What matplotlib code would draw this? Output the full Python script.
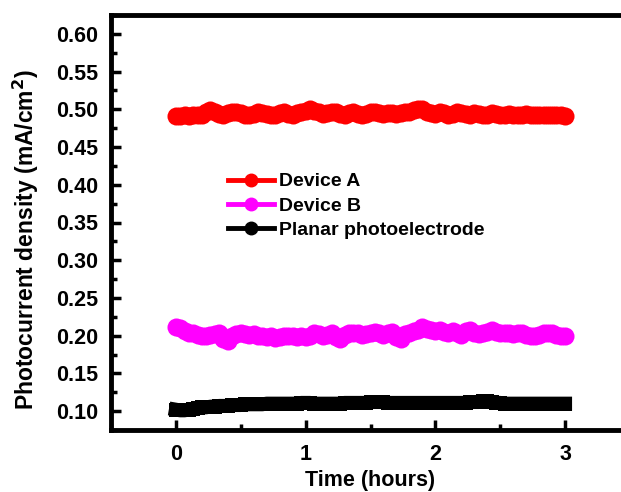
import numpy as np
import matplotlib
matplotlib.use("Agg")
import matplotlib.pyplot as plt
from matplotlib.ticker import MultipleLocator
from matplotlib.lines import Line2D

plt.rcParams['font.family'] = ['Liberation Sans', 'DejaVu Sans']
plt.rcParams['font.weight'] = 'bold'

device_a = [0.491, 0.491, 0.492, 0.491, 0.492, 0.493, 0.492, 0.497, 0.499, 0.497,
            0.494, 0.492, 0.495, 0.496, 0.497, 0.495, 0.493, 0.492, 0.494, 0.496,
            0.495, 0.494, 0.492, 0.493, 0.495, 0.496, 0.494, 0.493, 0.495, 0.497,
            0.498, 0.500, 0.498, 0.496, 0.494, 0.495, 0.497, 0.496, 0.494, 0.493,
            0.495, 0.496, 0.494, 0.493, 0.494, 0.496, 0.497, 0.495, 0.494, 0.495,
            0.495, 0.494, 0.495, 0.496, 0.497, 0.499, 0.501, 0.500, 0.497, 0.495,
            0.494, 0.496, 0.495, 0.493, 0.494, 0.496, 0.495, 0.494, 0.493, 0.495,
            0.494, 0.492, 0.493, 0.495, 0.494, 0.493, 0.492, 0.494, 0.493, 0.492,
            0.493, 0.494, 0.493, 0.492, 0.493, 0.492, 0.493, 0.492, 0.493, 0.492,
            0.491]
device_b = [0.212, 0.210, 0.206, 0.204, 0.204, 0.201, 0.199, 0.199, 0.201, 0.202,
            0.203, 0.196, 0.193, 0.200, 0.202, 0.203, 0.202, 0.201, 0.202, 0.200,
            0.199, 0.198, 0.199, 0.197, 0.198, 0.200, 0.199, 0.200, 0.198, 0.199,
            0.198, 0.200, 0.203, 0.202, 0.199, 0.201, 0.204, 0.198, 0.196, 0.201,
            0.203, 0.204, 0.203, 0.201, 0.202, 0.204, 0.205, 0.203, 0.201, 0.203,
            0.205, 0.198, 0.195, 0.202, 0.204, 0.206, 0.208, 0.212, 0.209, 0.207,
            0.206, 0.207, 0.205, 0.204, 0.206, 0.203, 0.201, 0.206, 0.207, 0.204,
            0.202, 0.204, 0.205, 0.208, 0.205, 0.203, 0.204, 0.203, 0.202, 0.204,
            0.203, 0.201, 0.200, 0.199, 0.201, 0.203, 0.204, 0.203, 0.201, 0.200,
            0.200]
planar = [0.102, 0.101, 0.101, 0.102, 0.103, 0.104, 0.105, 0.105, 0.106, 0.106,
          0.107, 0.107, 0.107, 0.108, 0.108, 0.108, 0.109, 0.109, 0.109, 0.109,
          0.109, 0.110, 0.110, 0.110, 0.110, 0.110, 0.110, 0.110, 0.110, 0.111,
          0.111, 0.111, 0.110, 0.110, 0.110, 0.110, 0.110, 0.110, 0.110, 0.111,
          0.111, 0.111, 0.111, 0.111, 0.111, 0.112, 0.112, 0.112, 0.112, 0.111,
          0.111, 0.111, 0.111, 0.111, 0.111, 0.111, 0.111, 0.111, 0.111, 0.111,
          0.111, 0.111, 0.111, 0.111, 0.111, 0.111, 0.111, 0.111, 0.112, 0.112,
          0.112, 0.113, 0.113, 0.112, 0.111, 0.111, 0.110, 0.110, 0.110, 0.110,
          0.110, 0.110, 0.110, 0.110, 0.110, 0.110, 0.110, 0.110, 0.110, 0.110,
          0.110]
labels = ["Device A", "Device B", "Planar photoelectrode"]
colors = ["#ff0000", "#ff00ff", "#000000"]
time_a = np.linspace(0, 3, len(device_a))
time_b = np.linspace(0, 3, len(device_b))
time_p = np.linspace(0, 3, len(planar))

fig = plt.figure(figsize=(6.21, 4.92), dpi=100)
ax = fig.add_axes([111/621, 62/492, 519/621, 415/492])

ms = 13
ax.plot(time_a, device_a, '-o', color=colors[0], lw=4, ms=ms, mew=0)
ax.plot(time_b, device_b, '-o', color=colors[1], lw=4, ms=ms, mew=0)
ax.plot(time_p, planar, '-s', color=colors[2], lw=10, ms=10.5, mew=0)

ax.set_xlim(-0.5, 3.5)
ax.set_ylim(0.075, 0.625)
ax.xaxis.set_minor_locator(MultipleLocator(0.5))
ax.yaxis.set_minor_locator(MultipleLocator(0.025))
yt = np.arange(0.10, 0.601, 0.05)
ax.set_yticks(yt)
ax.set_yticklabels([f"{v:.2f}" for v in yt])
ax.set_xticks([0, 1, 2, 3])
ax.set_xticklabels(["0", "1", "2", "3"])

for s in ax.spines.values():
    s.set_linewidth(3.5)
ax.tick_params(which='major', direction='in', length=7, width=2.5, labelsize=15.5)
ax.tick_params(axis='y', which='major', pad=9)
ax.tick_params(axis='x', which='major', pad=10)
ax.tick_params(which='minor', direction='in', length=4, width=2.5)
for lab in ax.get_xticklabels() + ax.get_yticklabels():
    lab.set_fontweight('bold')

ax.set_xlabel("Time (hours)", fontsize=15.5, fontweight='bold', labelpad=4)
ax.set_ylabel("Photocurrent density (mA/cm$^\\mathbf{2}$)", fontsize=16.5, fontweight='bold')
ax.yaxis.set_label_coords(-0.135, 0.46)

handles = [Line2D([], [], color=c, marker='o', lw=3.5, ms=9) for c in colors]
leg = ax.legend(handles, labels, loc='upper left', bbox_to_anchor=(0.225, 0.62), frameon=False,
                fontsize=14, handlelength=2.4, handletextpad=0.25, labelspacing=0.35,
                borderpad=0, borderaxespad=0)
for t in leg.get_texts():
    t.set_fontweight('bold')

fig.savefig("out.png", dpi=100)
